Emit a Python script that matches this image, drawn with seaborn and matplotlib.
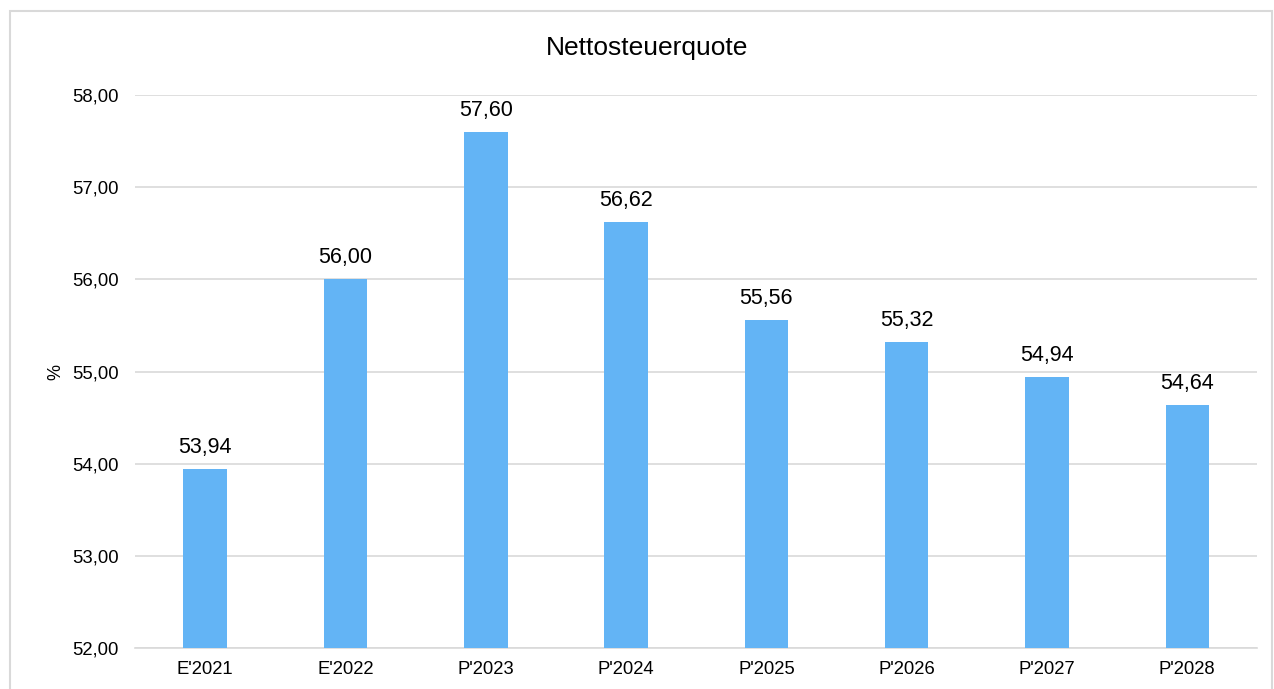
import numpy as np
import pandas as pd
import matplotlib
matplotlib.use('Agg')
import matplotlib.pyplot as plt
import seaborn as sns
from matplotlib.patches import Rectangle
from matplotlib.ticker import FuncFormatter

years = ["E'2021", "E'2022", "P'2023", "P'2024", "P'2025", "P'2026", "P'2027", "P'2028"]
quote = [53.94, 56.00, 57.60, 56.62, 55.56, 55.32, 54.94, 54.64]

df = pd.DataFrame({'jahr': years, 'quote': quote})

sns.set_style('white')
plt.rcParams['font.family'] = ['Liberation Sans', 'DejaVu Sans']
plt.rcParams['text.color'] = 'black'

fig = plt.figure(figsize=(12.74, 6.89), dpi=100)
ax = fig.add_axes([0.106, 0.0595, 0.881, 0.8025])

sns.barplot(data=df, x='jahr', y='quote', color='#63B4F5', width=0.31,
            saturation=1, linewidth=0, ax=ax, zorder=3)

ax.set_ylim(52, 58)
ax.set_yticks(np.arange(52, 58.5, 1))
ax.yaxis.set_major_formatter(FuncFormatter(lambda v, p: f'{v:.2f}'.replace('.', ',')))
ax.grid(axis='y', color='#D9D9D9', linewidth=1.2, zorder=0)
ax.set_axisbelow(True)
for s in ['top', 'right', 'left']:
    ax.spines[s].set_visible(False)
ax.spines['bottom'].set_color('#D9D9D9')
ax.spines['bottom'].set_linewidth(1.2)
ax.tick_params(axis='both', length=0, labelsize=13.3, colors='black')
ax.tick_params(axis='y', pad=12)
ax.tick_params(axis='x', pad=9)
ax.set_xlabel('')
ax.set_ylabel('%', fontsize=13, labelpad=5, color='black')

for i, v in enumerate(quote):
    ax.annotate(f'{v:.2f}'.replace('.', ','), (i, v), xytext=(0, 8),
                textcoords='offset points', ha='center', va='bottom', fontsize=15.5)

fig.text(0.508, 0.93, 'Nettosteuerquote', ha='center', va='center', fontsize=19)

fig.patches.append(Rectangle((10 / 1274, -0.01), 1262 / 1274, 1 - 11 / 689 + 0.01,
                             transform=fig.transFigure, fill=False,
                             edgecolor='#D9D9D9', linewidth=1.5))

fig.savefig('out.png', dpi=100)
